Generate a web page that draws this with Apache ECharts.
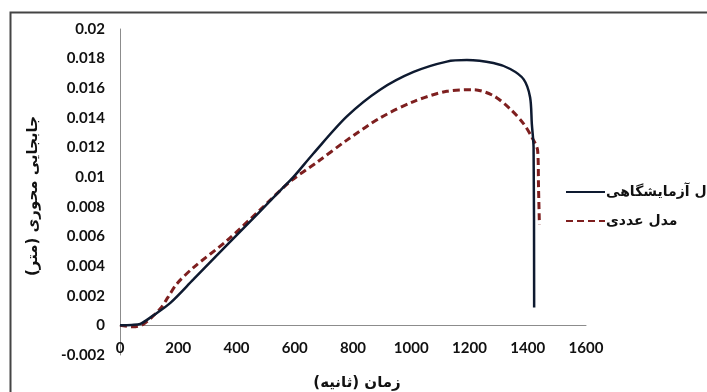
<!DOCTYPE html>
<html>
<head>
<meta charset="utf-8">
<script src="https://cdn.jsdelivr.net/npm/echarts@6/dist/echarts.min.js"></script>
<style>
  html, body { margin: 0; padding: 0; background: #fff; }
  #chart { width: 707px; height: 392px; }
</style>
</head>
<body>
<div id="chart"></div>
<script>
// 时间 (ثانیه) 与 位移 (متر)
const expTime = [0, 40, 70, 115, 172, 252, 366, 481, 550, 595, 664, 779, 893, 1008, 1122, 1191, 1282, 1340, 1386, 1408, 1414, 1420, 1422]
const expDisp = [0, 0.00003, 0.0001, 0.00068, 0.0015, 0.0031, 0.0054, 0.0077, 0.0091, 0.01, 0.0116, 0.0141, 0.0159, 0.0171, 0.0178, 0.0179, 0.0177, 0.0173, 0.0166, 0.0154, 0.0136, 0.012, 0.0012]

const numTime = [0, 46, 80, 137, 165, 195, 252, 366, 481, 584, 676, 779, 893, 1008, 1122, 1214, 1282, 1340, 1386, 1414, 1434, 1437, 1440]
const numDisp = [0, -0.0001, 0.00007, 0.0011, 0.0019, 0.0028, 0.0039, 0.0057, 0.0078, 0.0097, 0.011, 0.0125, 0.014, 0.0151, 0.0158, 0.0159, 0.0155, 0.0146, 0.0136, 0.0127, 0.0118, 0.0093, 0.0068]

const seriesNames = ['مدل آزمایشگاهی', 'مدل عددی']
const xTitle = 'زمان (ثانیه)'
const yTitle = 'جابجایی محوری (متر)'

const zip = (xs, ys) => xs.map((x, i) => [x, ys[i]])

const numFont = 'Lato, "Open Sans", sans-serif'
const arFont = '"DejaVu Sans", "Noto Sans", sans-serif'

const chart = echarts.init(document.getElementById('chart'))

chart.setOption({
  animation: false,
  graphic: [
    {
      type: 'rect',
      shape: { x: 10.5, y: 12.5, width: 700, height: 400 },
      style: { fill: 'none', stroke: '#444', lineWidth: 2 },
      silent: true
    },
    // 纵轴标题
    {
      type: 'text',
      x: 33,
      y: 196,
      rotation: Math.PI / 2,
      style: {
        text: yTitle,
        fontFamily: arFont,
        fontSize: 15,
        fontWeight: 'bold',
        fill: '#111',
        align: 'center',
        verticalAlign: 'middle'
      },
      silent: true
    },
    // 横轴标题
    {
      type: 'text',
      x: 357,
      y: 383,
      style: {
        text: xTitle,
        fontFamily: arFont,
        fontSize: 15,
        fontWeight: 'bold',
        fill: '#111',
        align: 'center',
        verticalAlign: 'middle'
      },
      silent: true
    }
  ],
  grid: { left: 120, right: 121, top: 29, bottom: 37 },
  legend: {
    orient: 'vertical',
    left: 560,
    top: 180,
    itemWidth: 39,
    itemHeight: 12,
    itemGap: 15,
    data: seriesNames,
    itemStyle: { opacity: 0 },
    textStyle: { fontFamily: arFont, fontSize: 14, fontWeight: 'bold', color: '#111', padding: [0, 0, 0, -4] }
  },
  xAxis: {
    type: 'value',
    min: 0,
    max: 1600,
    interval: 200,
    axisLine: { onZero: true, lineStyle: { color: '#8c8c8c', width: 1 } },
    axisTick: { show: false },
    splitLine: { show: false },
    axisLabel: {
      margin: -14,
      fontFamily: numFont,
      fontSize: 15,
      fontWeight: 'bold',
      color: '#111',
      formatter: (v) => String(v)
    }
  },
  yAxis: {
    type: 'value',
    min: -0.002,
    max: 0.02,
    interval: 0.002,
    axisLine: { show: true, lineStyle: { color: '#8c8c8c', width: 1 } },
    axisTick: { show: false },
    splitLine: { show: false },
    axisLabel: {
      margin: 15,
      fontFamily: numFont,
      fontSize: 15,
      fontWeight: 'bold',
      color: '#111',
      formatter: (v) => String(+v.toFixed(3))
    }
  },
  series: [
    {
      name: seriesNames[0],
      type: 'line',
      data: zip(expTime, expDisp),
      smooth: 0.3,
      symbol: 'none',
      itemStyle: { color: '#0e1a30' },
      lineStyle: { color: '#0e1a30', width: 2.5 },
      z: 3
    },
    {
      name: seriesNames[1],
      type: 'line',
      data: zip(numTime, numDisp),
      smooth: 0.3,
      symbol: 'none',
      itemStyle: { color: '#7e1f1f' },
      lineStyle: { color: '#7e1f1f', width: 3, type: [7, 4] },
      z: 2
    }
  ]
})
</script>
</body>
</html>
